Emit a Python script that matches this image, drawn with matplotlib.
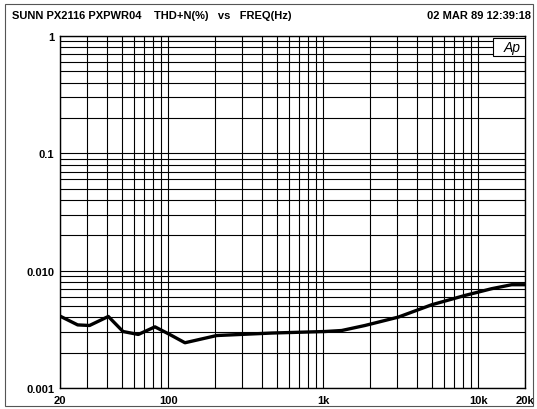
import numpy as np
import matplotlib
matplotlib.use('Agg')
import matplotlib.pyplot as plt
from matplotlib.patches import Rectangle

plt.rcParams['font.family'] = ['Liberation Sans', 'DejaVu Sans']

# THD+N (%) vs frequency
freq_hz = [20, 26, 31, 41, 51, 64, 82, 102, 128, 205, 464, 1024, 1313, 1855,
           3047, 5000, 8200, 12190, 16400, 20000]
thd_pct = [0.0041, 0.00345, 0.00341, 0.00407, 0.00303, 0.00286, 0.00332,
           0.00286, 0.00243, 0.0028, 0.00294, 0.00303, 0.00309, 0.00341,
           0.00402, 0.00512, 0.00615, 0.00702, 0.00759, 0.00759]

x_ticks = [20, 100, 1000, 10000, 20000]
x_labels = ['20', '100', '1k', '10k', '20k']
y_ticks = [1, 0.1, 0.01, 0.001]
y_labels = ['1', '0.1', '0.010', '0.001']

fig = plt.figure(figsize=(5.37, 4.10), dpi=100)
ax = fig.add_axes([60 / 537, 21 / 410, 465 / 537, 352 / 410])

ax.plot(freq_hz, thd_pct, color='black', linewidth=2.4, solid_capstyle='round')

ax.set_xscale('log')
ax.set_yscale('log')
ax.set_xlim(20, 20000)
ax.set_ylim(0.001, 1)

ax.grid(True, which='both', color='black', linewidth=0.8)
ax.set_xticks(x_ticks)
ax.set_xticklabels(x_labels)
ax.set_yticks(y_ticks)
ax.set_yticklabels(y_labels)
ax.minorticks_on()
ax.tick_params(which='both', length=0)
ax.tick_params(axis='x', which='minor', labelbottom=False)
ax.tick_params(axis='y', which='minor', labelleft=False)
for lab in ax.get_xticklabels() + ax.get_yticklabels():
    lab.set_fontweight('bold')
    lab.set_fontsize(8)
ax.tick_params(axis='x', pad=5)
ax.tick_params(axis='y', pad=4)
for sp in ax.spines.values():
    sp.set_linewidth(1.0)

# "Ap" badge in the top right corner
ax.add_patch(Rectangle((1 - 32 / 465, 1 - 20 / 352), 32 / 465, 18 / 352,
                       transform=ax.transAxes, facecolor='white',
                       edgecolor='black', linewidth=0.8, zorder=5))
ax.text(1 - 13 / 465, 1 - 11 / 352, 'Ap', transform=ax.transAxes,
        ha='center', va='center', fontsize=10, fontstyle='italic',
        zorder=6)

fig.text(12 / 537, 1 - 16 / 410, 'SUNN PX2116 PXPWR04    THD+N(%)   vs   FREQ(Hz)',
         fontsize=8, fontweight='bold', va='center', ha='left')
fig.text(531 / 537, 1 - 16 / 410, '02 MAR 89 12:39:18',
         fontsize=8, fontweight='bold', va='center', ha='right')

fig.patches.append(Rectangle((5 / 537, 3 / 410), 528 / 537, 402 / 410,
                             transform=fig.transFigure, fill=False,
                             edgecolor='#555555', linewidth=0.8))

fig.savefig('out.png', dpi=100)
